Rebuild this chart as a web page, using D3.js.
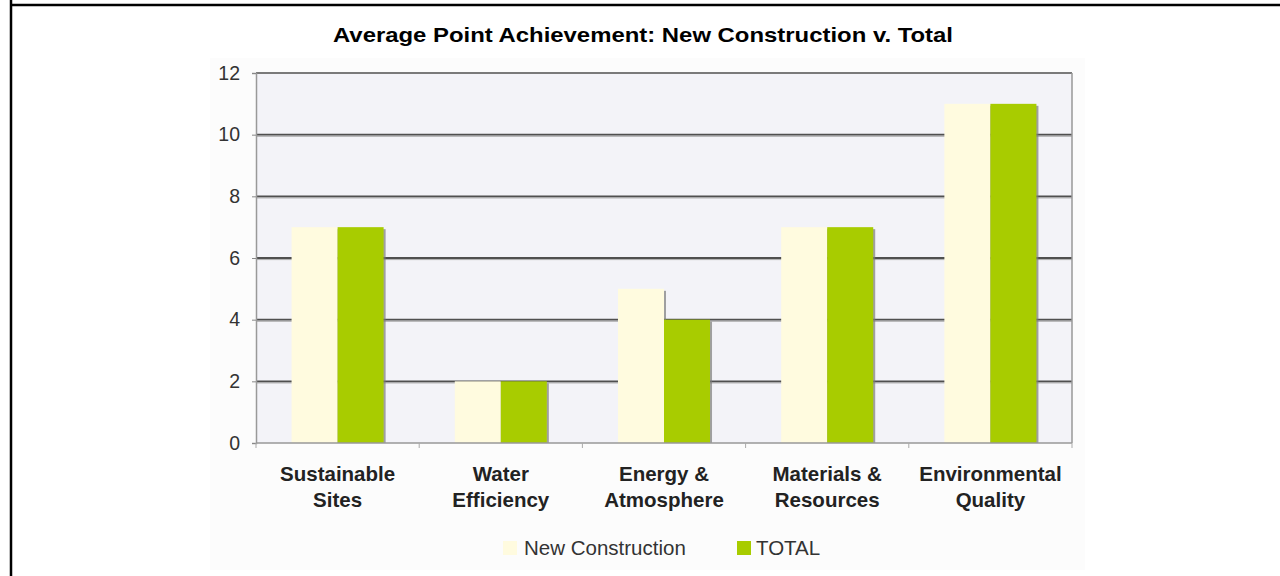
<!DOCTYPE html>
<html><head><meta charset="utf-8">
<script src="https://cdn.jsdelivr.net/npm/d3@7"></script>
<style>html,body{margin:0;padding:0;background:#fff;}svg{display:block;font-family:Arial,"Liberation Sans",sans-serif;}</style>
</head><body>
<svg id="c" width="1280" height="576"></svg>
<script>
const categories = [["Sustainable","Sites"],["Water","Efficiency"],["Energy &","Atmosphere"],["Materials &","Resources"],["Environmental","Quality"]];
const seriesNames = ["New Construction","TOTAL"];
const newConstruction = [7, 2, 5, 7, 11];
const total = [7, 2, 4, 7, 11];
const yTicks = [0, 2, 4, 6, 8, 10, 12];
const colors = ["#fffbdf", "#a8cc00"];
const title = "Average Point Achievement: New Construction v. Total";

const svg = d3.select("#c");
// frame
svg.append("line").attr("x1",10).attr("x2",1280).attr("y1",5).attr("y2",5).attr("stroke","#000").attr("stroke-width",2.5);
svg.append("line").attr("x1",11).attr("x2",11).attr("y1",0).attr("y2",576).attr("stroke","#000").attr("stroke-width",2.5);
// chart area bg
svg.append("rect").attr("x",210).attr("y",58).attr("width",875).attr("height",512).attr("fill","#fcfcfc");

const L=256,R=1072,T=73,B=443;
const x0 = d3.scaleBand().domain(d3.range(categories.length)).range([L,R]).paddingInner(0.436).paddingOuter(0.218);
const x1 = d3.scaleBand().domain(seriesNames).range([0,x0.bandwidth()]);
const y = d3.scaleLinear().domain([0,12]).range([B,T]);

svg.append("rect").attr("x",L).attr("y",T).attr("width",R-L).attr("height",B-T).attr("fill","#f3f3f8");

// gridlines
const g = svg.append("g");
yTicks.filter(t=>t>0 && t<12).forEach(t=>{
  g.append("line").attr("x1",L).attr("x2",R).attr("y1",y(t)+1.6).attr("y2",y(t)+1.6).attr("stroke","#aaa").attr("stroke-width",1);
  g.append("line").attr("x1",L).attr("x2",R).attr("y1",y(t)).attr("y2",y(t)).attr("stroke","#4f4f4f").attr("stroke-width",1.8);
});
g.append("line").attr("x1",L).attr("x2",R).attr("y1",y(12)).attr("y2",y(12)).attr("stroke","#7a7a7a").attr("stroke-width",1.8);
g.append("line").attr("x1",R).attr("x2",R).attr("y1",T).attr("y2",B).attr("stroke","#999").attr("stroke-width",1.5);

// bars
const data = [newConstruction,total];
categories.forEach((c,i)=>{
  seriesNames.forEach((s,j)=>{
    const v = data[j][i];
    const bx = x0(i)+x1(s), bw = x1.bandwidth();
    svg.append("rect").attr("x",bx+bw-0.5).attr("y",y(v)+2).attr("width",2.5).attr("height",B-y(v)-2).attr("fill","#7a7a7a").attr("opacity",0.7);
    svg.append("rect").attr("x",bx).attr("y",y(v)).attr("width",bw).attr("height",B-y(v)).attr("fill",colors[j]);
  });
});

// y axis
const yAxis = d3.axisLeft(y).tickValues(yTicks).tickSize(4).tickPadding(12);
const ya = svg.append("g").attr("transform",`translate(${L},0)`).call(yAxis);
ya.select(".domain").attr("stroke","#999").attr("stroke-width",1.5);
ya.selectAll(".tick line").attr("stroke","#888");
ya.selectAll("text").attr("font-size",19.5).attr("fill","#333").attr("font-family","Arial,'Liberation Sans',sans-serif");

// x axis baseline and ticks
svg.append("line").attr("x1",L).attr("x2",R).attr("y1",B).attr("y2",B).attr("stroke","#999").attr("stroke-width",1.5);
d3.range(categories.length+1).forEach(k=>{
  const xx = L + k*x0.step();
  svg.append("line").attr("x1",xx).attr("x2",xx).attr("y1",B).attr("y2",B+5).attr("stroke","#aaa").attr("stroke-width",1);
});
categories.forEach((c,i)=>{
  const cx = x0(i)+x0.bandwidth()/2;
  const t = svg.append("text").attr("x",cx).attr("y",481).attr("text-anchor","middle").attr("font-size",20.5).attr("font-weight","bold").attr("fill","#222");
  c.forEach((line,k)=>t.append("tspan").attr("x",cx).attr("dy",k?26:0).text(line));
});

// title
svg.append("text").attr("x",643).attr("y",42).attr("text-anchor","middle").attr("font-size",21).attr("font-weight","bold").attr("fill","#000")
  .attr("textLength",620).attr("lengthAdjust","spacingAndGlyphs").text(title);

// legend
const lg = [{x:503, tx:524},{x:737, tx:756}];
seriesNames.forEach((s,j)=>{
  svg.append("rect").attr("x",lg[j].x).attr("y",541).attr("width",14).attr("height",14).attr("fill",colors[j]);
  svg.append("text").attr("x",lg[j].tx).attr("y",555).attr("font-size",20.5).attr("fill","#333").text(s);
});
</script>
</body></html>
